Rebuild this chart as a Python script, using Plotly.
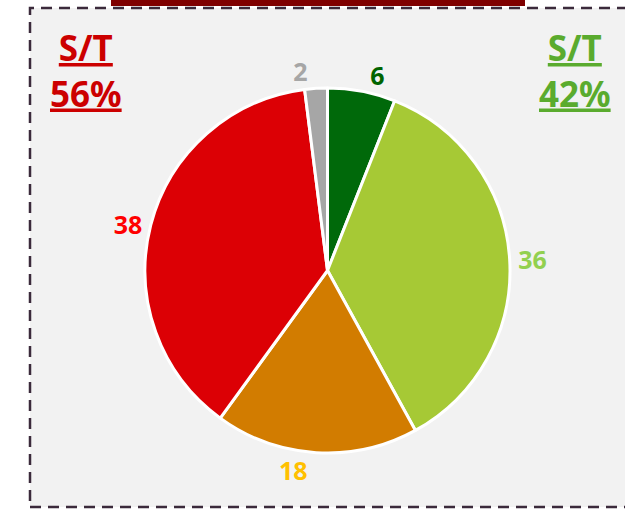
import plotly.graph_objects as go

values = [6, 36, 18, 38, 2]
labels = ["Dark green", "Light green", "Orange", "Red", "Grey"]
slice_colors = ["#00690a", "#a6c935", "#d27c00", "#dc0005", "#a6a6a6"]
label_colors = ["#006400", "#92d050", "#ffc000", "#ff0000", "#a6a6a6"]

left_title = ["S/T", "56%"]
right_title = ["S/T", "42%"]

W, H = 625, 510

fig = go.Figure()
fig.add_trace(go.Pie(
    values=values,
    labels=labels,
    sort=False,
    direction="clockwise",
    rotation=0,
    textinfo="value",
    textposition="outside",
    textfont=dict(color=label_colors, size=25, family="Noto Sans", weight="bold"),
    marker=dict(colors=slice_colors, line=dict(color="white", width=3)),
    domain=dict(x=[145 / W, 510 / W], y=[(H - 453) / H, (H - 88) / H]),
    showlegend=False,
    hoverinfo="label+value",
))

# background box with dashed border
fig.add_shape(type="rect", xref="paper", yref="paper",
              x0=30 / W, x1=1.02, y0=(H - 507) / H, y1=(H - 8) / H,
              fillcolor="#f2f2f2", line=dict(color="#3b2a3b", width=2.5, dash="11px,7px"),
              layer="below")
# dark red header bar at top
fig.add_shape(type="rect", xref="paper", yref="paper",
              x0=111 / W, x1=525 / W, y0=(H - 6) / H, y1=1.01,
              fillcolor="#7f0000", line=dict(width=0), layer="below")

fig.add_annotation(xref="paper", yref="paper", x=86 / W, y=(H - 22) / H,
                   xanchor="center", yanchor="top", showarrow=False,
                   text="<br>".join(f"<u>{t}</u>" for t in left_title),
                   font=dict(color="#cc0000", size=35, family="Noto Sans", weight="bold"))
fig.add_annotation(xref="paper", yref="paper", x=575 / W, y=(H - 22) / H,
                   xanchor="center", yanchor="top", showarrow=False,
                   text="<br>".join(f"<u>{t}</u>" for t in right_title),
                   font=dict(color="#5aab2e", size=35, family="Noto Sans", weight="bold"))

fig.update_layout(
    width=W, height=H,
    margin=dict(l=0, r=0, t=0, b=0),
    paper_bgcolor="white",
    plot_bgcolor="white",
)

fig.write_html("out.html", config={"displayModeBar": False},
               post_script="document.body.style.margin='0px';")
